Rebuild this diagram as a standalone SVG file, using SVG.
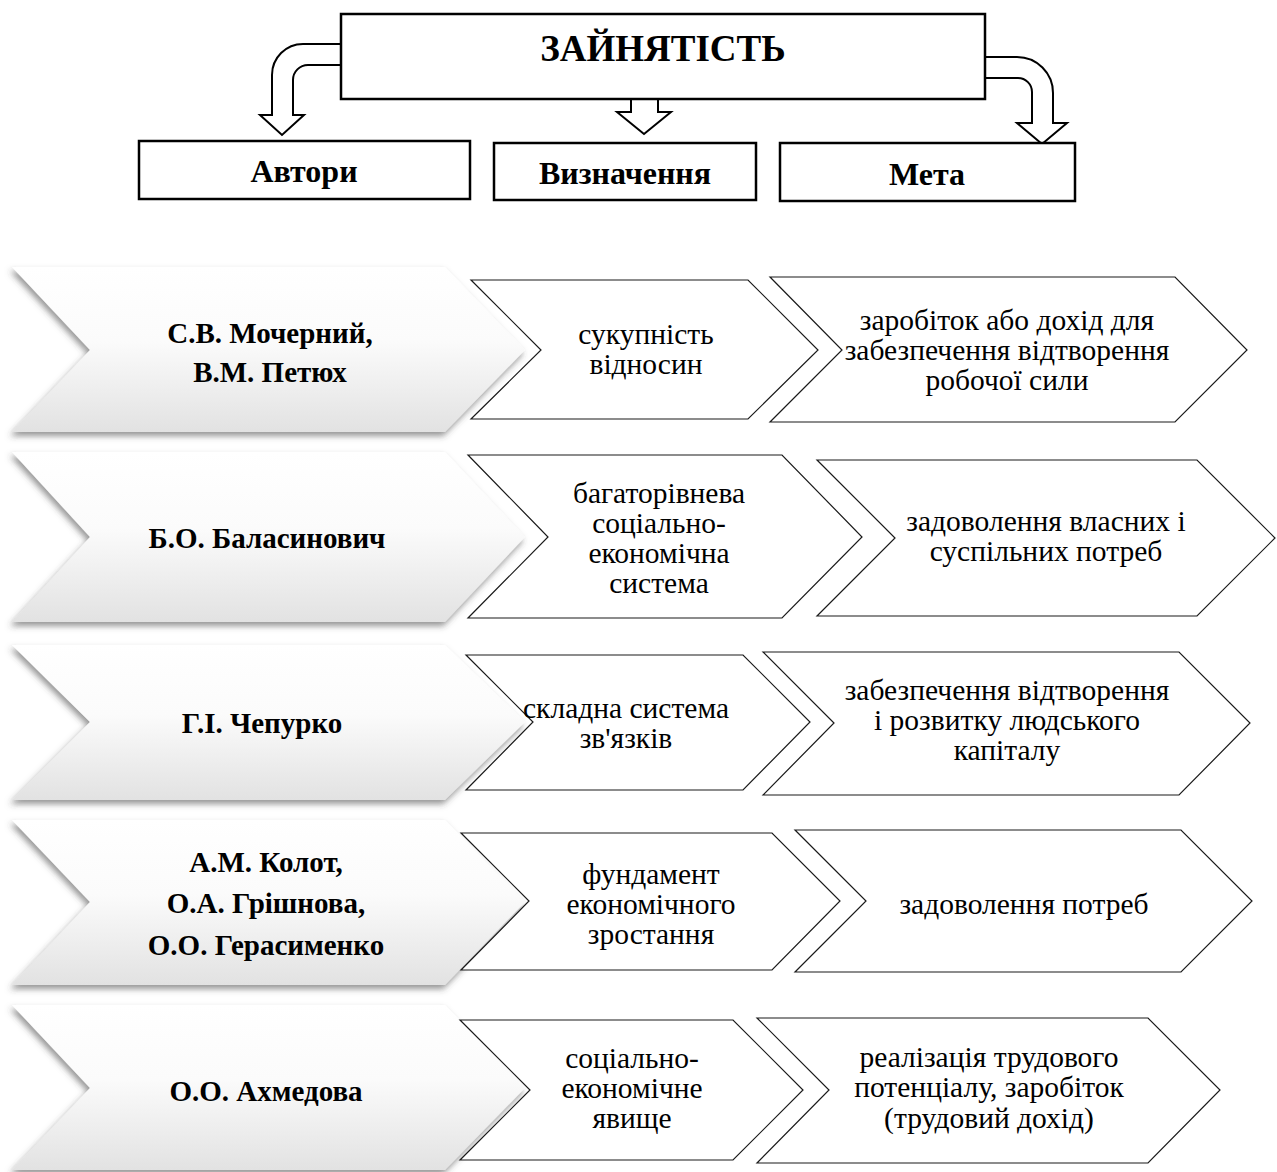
<svg xmlns="http://www.w3.org/2000/svg" width="1277" height="1172" viewBox="0 0 1277 1172">
  <defs>
    <linearGradient id="authorFill" x1="0" y1="0" x2="0" y2="1">
      <stop offset="0" stop-color="#ffffff"/>
      <stop offset="0.45" stop-color="#fbfbfb"/>
      <stop offset="1" stop-color="#e2e2e2"/>
    </linearGradient>
    <filter id="softShadow" x="-5%" y="-10%" width="110%" height="125%">
      <feDropShadow dx="-2" dy="4" stdDeviation="3" flood-color="#404040" flood-opacity="0.55"/>
    </filter>
  </defs>
  <style>
    .frame { fill: #ffffff; stroke: #000000; stroke-width: 2.5; }
    .block-arrow { fill: #ffffff; stroke: #000000; stroke-width: 2; stroke-linejoin: miter; }
    .author { fill: url(#authorFill); filter: url(#softShadow); }
    .step { fill: #ffffff; stroke: #1a1a1a; stroke-width: 1.2; }
    .head { font-family: "Liberation Serif", "Times New Roman", serif; font-weight: bold; text-anchor: middle; fill: #000; }
    .name { font-family: "Liberation Serif", "Times New Roman", serif; font-weight: bold; font-size: 29px; text-anchor: middle; fill: #000; }
    .body { font-family: "Liberation Serif", "Times New Roman", serif; font-size: 29.5px; text-anchor: middle; fill: #000; }
  </style>
  <rect width="1277" height="1172" fill="#ffffff"/>

  <!-- block arrows from the title to the three column headers -->
  <g id="connectors">
    <path class="block-arrow" d="M341,44 H303 A31,31 0 0 0 272,75 V115 H260 L282,135 L304,115 H293 V80 A15,15 0 0 1 308,65 H341"/>
    <rect x="631" y="95" width="27" height="6" fill="#000"/>
    <path class="block-arrow" d="M631,100 V112 H617 L644,134 L671,112 H658 V100"/>
    <path class="block-arrow" d="M985,57 H1017 A36,36 0 0 1 1053,93 V123 H1067 L1042,144 L1017,123 H1032 V92 A14,14 0 0 0 1018,78 H985"/>
  </g>

  <g id="title">
    <rect class="frame" x="341" y="14" width="644" height="85"/>
    <text class="head" x="663" y="61" font-size="37">ЗАЙНЯТІСТЬ</text>
  </g>
  <g id="col-authors">
    <rect class="frame" x="139" y="141" width="331" height="58"/>
    <text class="head" x="304" y="182" font-size="32">Автори</text>
  </g>
  <g id="col-definition">
    <rect class="frame" x="494" y="143" width="262" height="57"/>
    <text class="head" x="625" y="184" font-size="32">Визначення</text>
  </g>
  <g id="col-goal">
    <rect class="frame" x="780" y="143" width="295" height="58"/>
    <text class="head" x="927" y="185" font-size="32">Мета</text>
  </g>

  <!-- row 1 -->
  <g id="row1-author">
    <polygon class="author" points="12,267 445,267 525,350 445,432 12,432 90,350"/>
    <text class="name" x="270" y="343">С.В. Мочерний,</text>
    <text class="name" x="270" y="382">В.М. Петюх</text>
  </g>
  <g id="row1-definition">
    <polygon class="step" points="471,280 748,280 818,350 748,419 471,419 541,350"/>
    <text class="body" x="646" y="344">сукупність</text>
    <text class="body" x="646" y="374">відносин</text>
  </g>
  <g id="row1-goal">
    <polygon class="step" points="770,277 1175,277 1247,350 1175,422 770,422 842,350"/>
    <text class="body" x="1007" y="330">заробіток або дохід для</text>
    <text class="body" x="1007" y="360">забезпечення відтворення</text>
    <text class="body" x="1007" y="390">робочої сили</text>
  </g>

  <!-- row 2 -->
  <g id="row2-author">
    <polygon class="author" points="12,452 445,452 525,537 445,622 12,622 90,537"/>
    <text class="name" x="267" y="548">Б.О. Баласинович</text>
  </g>
  <g id="row2-definition">
    <polygon class="step" points="468,455 782,455 862,537 782,618 468,618 548,537"/>
    <text class="body" x="659" y="503">багаторівнева</text>
    <text class="body" x="659" y="533">соціально-</text>
    <text class="body" x="659" y="563">економічна</text>
    <text class="body" x="659" y="593">система</text>
  </g>
  <g id="row2-goal">
    <polygon class="step" points="817,460 1197,460 1275,538 1197,616 817,616 895,538"/>
    <text class="body" x="1046" y="531">задоволення власних і</text>
    <text class="body" x="1046" y="561">суспільних потреб</text>
  </g>

  <!-- row 3 -->
  <g id="row3-author">
    <polygon class="author" points="12,645 445,645 525,722 445,800 12,800 90,722"/>
    <text class="name" x="262" y="733">Г.І. Чепурко</text>
  </g>
  <g id="row3-definition">
    <polygon class="step" points="466,655 743,655 810,722 743,790 466,790 533,722"/>
    <text class="body" x="626" y="718">складна система</text>
    <text class="body" x="626" y="748">зв'язків</text>
  </g>
  <g id="row3-goal">
    <polygon class="step" points="763,652 1179,652 1250,723 1179,795 763,795 834,723"/>
    <text class="body" x="1007" y="700">забезпечення відтворення</text>
    <text class="body" x="1007" y="730">і розвитку людського</text>
    <text class="body" x="1007" y="760">капіталу</text>
  </g>

  <!-- row 4 -->
  <g id="row4-author">
    <polygon class="author" points="12,820 445,820 525,902 445,985 12,985 90,902"/>
    <text class="name" x="266" y="872">А.М. Колот,</text>
    <text class="name" x="266" y="913">О.А. Грішнова,</text>
    <text class="name" x="266" y="955">О.О. Герасименко</text>
  </g>
  <g id="row4-definition">
    <polygon class="step" points="461,833 772,833 840,901 772,970 461,970 529,901"/>
    <text class="body" x="651" y="884">фундамент</text>
    <text class="body" x="651" y="914">економічного</text>
    <text class="body" x="651" y="944">зростання</text>
  </g>
  <g id="row4-goal">
    <polygon class="step" points="795,830 1181,830 1252,901 1181,972 795,972 866,901"/>
    <text class="body" x="1024" y="914">задоволення потреб</text>
  </g>

  <!-- row 5 -->
  <g id="row5-author">
    <polygon class="author" points="12,1005 445,1005 525,1088 445,1170 12,1170 90,1088"/>
    <text class="name" x="266" y="1101">О.О. Ахмедова</text>
  </g>
  <g id="row5-definition">
    <polygon class="step" points="460,1020 733,1020 803,1090 733,1160 460,1160 530,1090"/>
    <text class="body" x="632" y="1068">соціально-</text>
    <text class="body" x="632" y="1098">економічне</text>
    <text class="body" x="632" y="1128">явище</text>
  </g>
  <g id="row5-goal">
    <polygon class="step" points="757,1018 1148,1018 1220,1090 1148,1163 757,1163 829,1090"/>
    <text class="body" x="989" y="1067">реалізація трудового</text>
    <text class="body" x="989" y="1097">потенціалу, заробіток</text>
    <text class="body" x="989" y="1128">(трудовий дохід)</text>
  </g>
</svg>
